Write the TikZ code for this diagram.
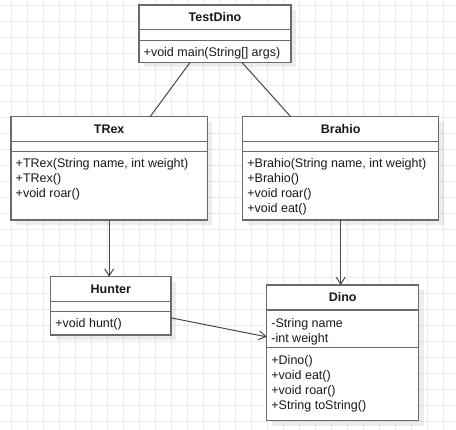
\documentclass[tikz,border=0pt]{standalone}
\usepackage{fontspec}
\setmainfont{Liberation Sans}
\usetikzlibrary{arrows.meta,shadows}

\begin{document}
\begin{tikzpicture}[x=1pt,y=-1pt,
	gridline/.style={draw=black!8,line width=1pt},
	classbox/.style={draw=black!58,line width=1.3pt,fill=white,inner sep=0pt,outer sep=0pt,anchor=north west,
		drop shadow={shadow xshift=5pt,shadow yshift=-5pt,fill=black,opacity=.07}},
	sepline/.style={draw=black!58,line width=1.3pt},
	title/.style={font=\fontsize{12.5}{15}\selectfont\bfseries,text=black!90,anchor=base,inner sep=0pt},
	members/.style={font=\fontsize{12.5}{15}\selectfont,text=black!90,align=left,anchor=north west,inner sep=0pt},
	link/.style={draw=black!72,line width=1pt},
	uses/.style={link,-{Straight Barb[length=7pt,width=9pt]}}]
			\useasboundingbox (0,0) rectangle (456,430);
			% Grid
			\foreach \gx in {11.5,27.5,...,451.5} \draw[gridline] (\gx,0) -- (\gx,430);
			\foreach \gy in {5.5,21.5,...,421.5} \draw[gridline] (0,\gy) -- (456,\gy);
			
			% Classes
			\node[classbox,minimum width=152pt,minimum height=57.5pt] (TestDino) at (139,5) {};
			\node[classbox,minimum width=196.3pt,minimum height=103.3pt] (TRex) at (11,116.7) {};
			\node[classbox,minimum width=196pt,minimum height=103.3pt] (Brahio) at (242.7,116.7) {};
			\node[classbox,minimum width=120.3pt,minimum height=58.3pt] (Hunter) at (50.7,276.7) {};
			\node[classbox,minimum width=152pt,minimum height=135.7pt] (Dino) at (266.7,285) {};
			
			\draw[sepline] ([yshift=-24.5pt]TestDino.north west) -- ([yshift=-24.5pt]TestDino.north east);
			\draw[sepline] ([yshift=-35.5pt]TestDino.north west) -- ([yshift=-35.5pt]TestDino.north east);
			\draw[sepline] ([yshift=-25pt]TRex.north west) -- ([yshift=-25pt]TRex.north east);
			\draw[sepline] ([yshift=-35pt]TRex.north west) -- ([yshift=-35pt]TRex.north east);
			\draw[sepline] ([yshift=-25pt]Brahio.north west) -- ([yshift=-25pt]Brahio.north east);
			\draw[sepline] ([yshift=-35pt]Brahio.north west) -- ([yshift=-35pt]Brahio.north east);
			\draw[sepline] ([yshift=-25pt]Hunter.north west) -- ([yshift=-25pt]Hunter.north east);
			\draw[sepline] ([yshift=-35pt]Hunter.north west) -- ([yshift=-35pt]Hunter.north east);
			\draw[sepline] ([yshift=-25pt]Dino.north west) -- ([yshift=-25pt]Dino.north east);
			\draw[sepline] ([yshift=-62.7pt]Dino.north west) -- ([yshift=-62.7pt]Dino.north east);
			
			\node[title] (TestDinoTitle) at ([yshift=-16.5pt]TestDino.north) {TestDino};
			\node[title] (TRexTitle) at ([yshift=-17pt]TRex.north) {TRex};
			\node[title] (BrahioTitle) at ([yshift=-17pt]Brahio.north) {Brahio};
			\node[title] (HunterTitle) at ([yshift=-17pt]Hunter.north) {Hunter};
			\node[title] (DinoTitle) at ([yshift=-17pt]Dino.north) {Dino};
			
			\node[members] (TestDinoOps) at ([xshift=4.5pt,yshift=-42pt]TestDino.north west) {+void main(String[] args)};
			\node[members] (TRexOps) at ([xshift=4.5pt,yshift=-41.5pt]TRex.north west) {+TRex(String name, int weight)\\+TRex()\\+void roar()};
			\node[members] (BrahioOps) at ([xshift=4.5pt,yshift=-41.5pt]Brahio.north west) {+Brahio(String name, int weight)\\+Brahio()\\+void roar()\\+void eat()};
			\node[members] (HunterOps) at ([xshift=4.5pt,yshift=-41.5pt]Hunter.north west) {+void hunt()};
			\node[members] (DinoAttrs) at ([xshift=4.5pt,yshift=-33pt]Dino.north west) {-String name\\-int weight};
			\node[members] (DinoOps) at ([xshift=4.5pt,yshift=-70pt]Dino.north west) {+Dino()\\+void eat()\\+void roar()\\+String toString()};
			
			% Connectors
			\draw[link] ([xshift=-25pt]TestDino.south) -- ([xshift=41pt]TRex.north);
			\draw[link] ([xshift=27pt]TestDino.south) -- ([xshift=-50pt]Brahio.north);
			\draw[uses] (TRex.south) -- (TRex.south |- Hunter.north);
			\draw[uses] (Brahio.south) -- (Brahio.south |- Dino.north);
			\draw[uses] ([yshift=-12pt]Hunter.east) -- ([yshift=16pt]Dino.west);
			
			\end{tikzpicture}
\end{document}
